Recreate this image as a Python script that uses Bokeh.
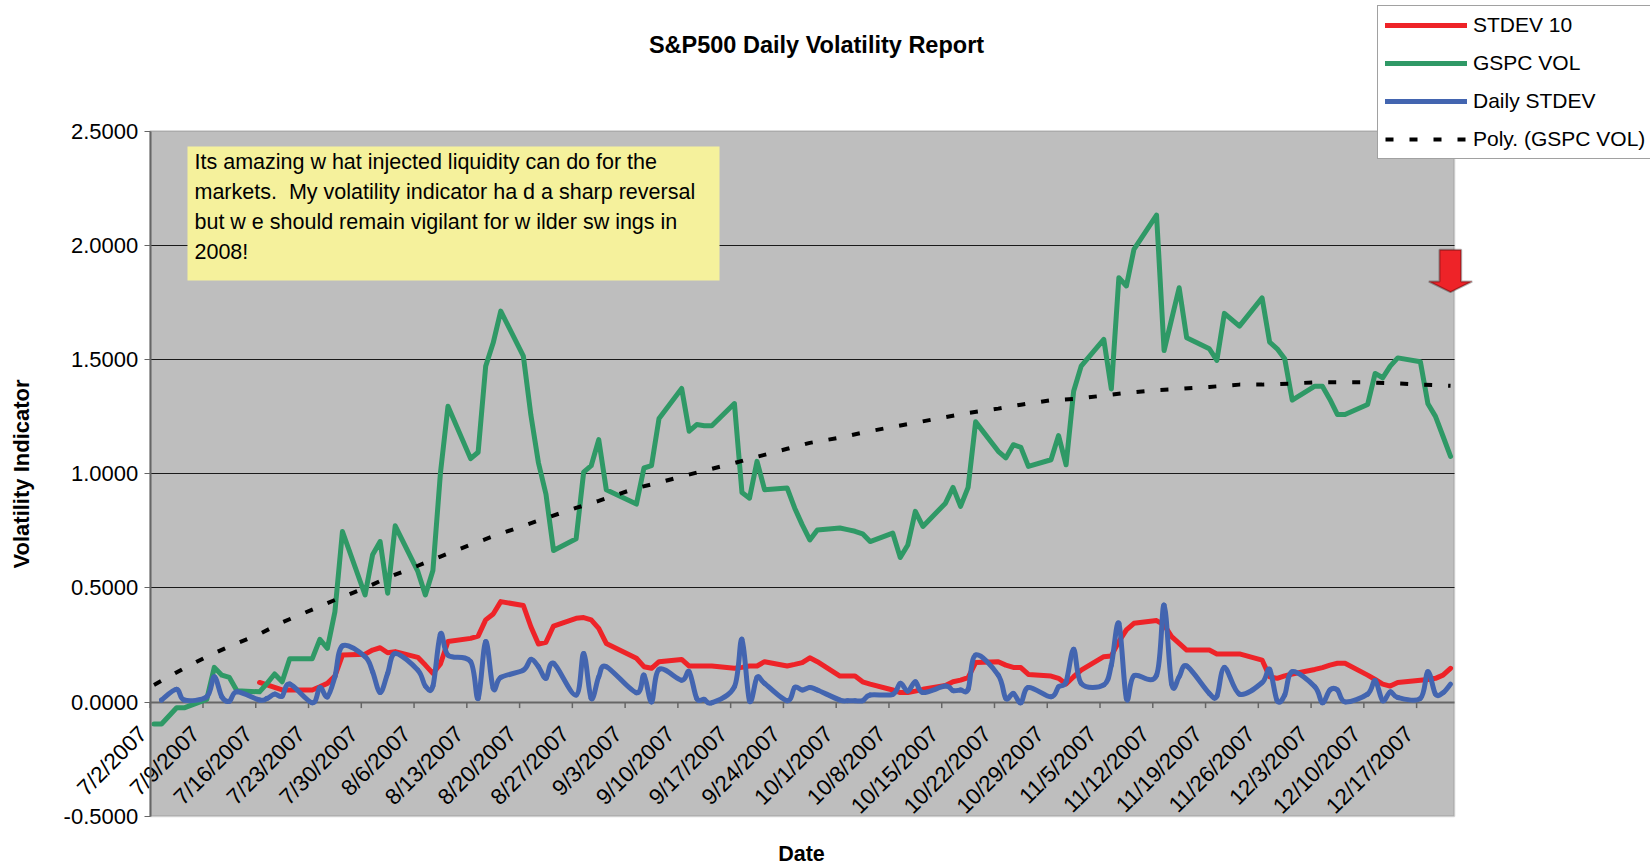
import math
import pandas as pd
from bokeh.embed import file_html
from bokeh.resources import INLINE
from bokeh.plotting import figure
from bokeh.models import (Range1d, FixedTicker, NumeralTickFormatter, Legend, LegendItem,
                          BoxAnnotation, Label, PolyAnnotation)

FONT = "Liberation Sans"
START = pd.Timestamp("2007-07-02")
HOLIDAYS = ["2007-07-04", "2007-09-03", "2007-11-22"]
DATES = [d for d in pd.bdate_range("2007-07-02", "2007-12-21") if d.strftime("%Y-%m-%d") not in HOLIDAYS]

GSPC_VOL = [
    -.096, -.096, -.025, -.025,
    .012, .152, .118, .108, .05,
    .045, .082, .123, .089, .19,
    .19, .275, .235, .396, .747,
    .469, .645, .703, .477, .772,
    .572, .469, .576, 1.003, 1.295,
    1.066, 1.094, 1.47, 1.573, 1.712,
    1.515, 1.256, 1.048, .91, .664,
    .715, 1.007, 1.035, 1.149, .93,
    .867, 1.025, 1.035, 1.242,
    1.373, 1.186, 1.215, 1.21, 1.21,
    1.307, .918, .893, 1.054, .93,
    .937, .849, .776, .71, .754,
    .762, .755, .748, .737, .703,
    .74, .633, .688, .835, .769,
    .871, .94, .857, .94, 1.227,
    1.098, 1.069, 1.127, 1.115, 1.032,
    1.061, 1.167, 1.039, 1.361, 1.471,
    1.588, 1.371, 1.858, 1.822, 1.982,
    2.132, 1.539, 1.677, 1.814, 1.595,
    1.547, 1.496, 1.702, 1.646,
    1.77, 1.576, 1.547, 1.503, 1.322,
    1.383, 1.383, 1.325, 1.259, 1.259,
    1.303, 1.439, 1.42, 1.471, 1.507,
    1.49, 1.306, 1.251, 1.164, 1.076,
]
STDEV_10 = [
    None, None, None, None,
    None, None, None, None, None,
    .086, .075, .064, .053, .053,
    .053, .067, .082, .114, .206,
    .21, .228, .238, .216, .221,
    .196, .162, .126, .167, .265,
    .279, .289, .36, .386, .44,
    .423, .33, .254, .262, .333,
    .367, .37, .36, .323, .257,
    .192, .155, .148, .177,
    .187, .158, .158, .158, .158,
    .148, .152, .158, .158, .177,
    .158, .165, .173, .194, .177,
    .114, .114, .114, .089, .079,
    .053, .042, .042, .048, .056,
    .073, .089, .096, .107, .173,
    .177, .162, .152, .151, .121,
    .114, .104, .079, .111, .14,
    .199, .202, .265, .316, .345,
    .357, .338, .287, .257, .228,
    .228, .211, .211, .211,
    .184, .111, .104, .115, .123,
    .143, .151, .162, .17, .17,
    .118, .099, .079, .07, .086,
    .096, .099, .104, .118, .148,
]
DAILY_STDEV = [
    None, .009, .056, .009,
    .023, .111, .023, .004, .045,
    .009, .016, .035, .026, .079,
    -.003, .064, .023, .111, .246,
    .199, .133, .042, .126, .213,
    .14, .07, .07, .298, .206,
    .177, .016, .265, .06, .108,
    .14, .187, .155, .104, .17,
    .031, .213, .016, .111, .155,
    .041, .118, .001, .143,
    .096, .133, .016, .012, -.003,
    .067, .275, .006, .108, .082,
    .006, .064, .053, .064, .053,
    .009, .006, .006, .006, .031,
    .034, .082, .048, .089, .042,
    .07, .05, .053, .056, .206,
    .118, .016, .038, -.003, .064,
    .023, .067, .089, .231, .082,
    .075, .162, .345, .016, .115,
    .118, .425, .079, .111, .158,
    .038, .026, .152, .035,
    .085, .143, .006, .031, .133,
    .067, -.003, .053, .053, .001,
    .035, .094, .006, .045, .02,
    .016, .133, .035, .041, .079,
]
POLY_DATES = ["7/2", "7/6", "7/9", "7/12", "7/16", "7/19", "7/23", "7/26", "7/30", "8/2", "8/6", "8/9", "8/13",
              "8/16", "8/20", "8/23", "8/27", "8/30", "9/4", "9/7", "9/10", "9/13", "9/17", "9/20", "9/24", "9/27",
              "10/1", "10/4", "10/8", "10/11", "10/15", "10/18", "10/22", "10/25", "10/29", "11/1", "11/5", "11/8",
              "11/12", "11/15", "11/19", "11/23", "11/26", "11/30", "12/3", "12/7", "12/10", "12/14", "12/17", "12/21"]
POLY_VOL = [.075, .148, .199, .244, .298, .349, .405, .447, .5, .545, .597, .637, .689,
            .726, .772, .806, .85, .881, .937, .961, .988, 1.013, 1.047, 1.074, 1.109, 1.135,
            1.158, 1.18, 1.205, 1.223, 1.248, 1.266, 1.285, 1.302, 1.322, 1.327, 1.342, 1.354,
            1.366, 1.371, 1.38, 1.39, 1.39, 1.395, 1.4, 1.4, 1.4, 1.395, 1.39, 1.385]
TICK_LABELS = ["7/2/2007", "7/9/2007", "7/16/2007", "7/23/2007", "7/30/2007", "8/6/2007", "8/13/2007", "8/20/2007",
               "8/27/2007", "9/3/2007", "9/10/2007", "9/17/2007", "9/24/2007", "10/1/2007", "10/8/2007", "10/15/2007",
               "10/22/2007", "10/29/2007", "11/5/2007", "11/12/2007", "11/19/2007", "11/26/2007", "12/3/2007",
               "12/10/2007", "12/17/2007"]
Y_TICKS = [-0.5, 0, 0.5, 1, 1.5, 2, 2.5]
GRID_TICKS = [0.5, 1, 1.5, 2]
NOTE_LINES = ["Its amazing w hat injected liquidity can do for the",
              "markets.\u00a0 My volatility indicator ha d a sharp reversal",
              "but w e should remain vigilant for w ilder sw ings in",
              "2008!"]

days = [(d - START).days for d in DATES]
poly_days = [(pd.Timestamp("2007/" + s) - START).days for s in POLY_DATES]
tick_days = [(pd.Timestamp(s) - START).days - 0.5 for s in TICK_LABELS]
X_LO, X_HI = -0.5, 172.5
Y_LO, Y_HI = -0.5, 2.5

# The frame fills the canvas so that legend and arrow may lie beyond the plot box
PX = lambda v: (v - 153.5) / 7.538
PY = lambda v: (701.6 - v) / 228.4
WIDTH, HEIGHT = 1650, 864
LABEL_SHIFT = 0.95  # tick labels sit a little left of their tick marks
TICK_LEN = 6 / 228.4

p = figure(width=WIDTH, height=HEIGHT, output_backend="svg", toolbar_location=None,
           x_range=Range1d(PX(0), PX(WIDTH)), y_range=Range1d(PY(HEIGHT), PY(0)),
           min_border=0, outline_line_color=None, background_fill_color="white")
p.add_layout(BoxAnnotation(left=X_LO, right=X_HI, bottom=Y_LO, top=Y_HI, level="image",
                           fill_color="#BEBEBE", fill_alpha=1, line_color="#808080", line_width=2))
p.xgrid.visible = False
p.ygrid.ticker = FixedTicker(ticks=GRID_TICKS)
p.ygrid.cross_bounds = (X_LO, X_HI)
p.ygrid.grid_line_color = "#1a1a1a"
p.ygrid.grid_line_width = 1.2

label_days = [t - LABEL_SHIFT for t in tick_days]
xa = p.xaxis[0]
xa.fixed_location = 0
xa.bounds = (X_LO, X_HI)
xa.level = "underlay"
xa.ticker = FixedTicker(ticks=label_days)
xa.major_label_overrides = {t: l for t, l in zip(label_days, TICK_LABELS)}
xa.major_label_orientation = math.pi / 4
xa.major_label_text_font = FONT
xa.major_label_text_font_size = "22.5px"
xa.major_label_text_color = "black"
xa.major_label_standoff = 22
xa.axis_line_color = "#666666"
xa.axis_line_width = 2
xa.major_tick_line_color = None
xa.minor_tick_line_color = None
p.segment(tick_days, [0] * len(tick_days), tick_days, [-TICK_LEN] * len(tick_days), line_color="#666666",
          line_width=1.5, level="underlay")

ya = p.yaxis[0]
ya.fixed_location = X_LO
ya.bounds = (Y_LO, Y_HI)
ya.ticker = FixedTicker(ticks=Y_TICKS)
ya.formatter = NumeralTickFormatter(format="0.0000")
ya.major_label_text_font = FONT
ya.major_label_text_font_size = "22px"
ya.major_label_text_color = "black"
ya.major_label_standoff = 6
ya.axis_line_color = "#666666"
ya.axis_line_width = 2
ya.major_tick_line_color = "#666666"
ya.major_tick_in = 0
ya.major_tick_out = 6
ya.minor_tick_line_color = None
ya.axis_label = "Volatility Indicator"
ya.axis_label_text_font = FONT
ya.axis_label_text_font_size = "22px"
ya.axis_label_text_font_style = "bold"
ya.axis_label_text_color = "black"
ya.axis_label_standoff = 27

valid = lambda vals: [(d, v) for d, v in zip(days, vals) if v is not None]
red_pts, blue_pts = valid(STDEV_10), valid(DAILY_STDEV)
style = dict(line_width=5, line_join="round", line_cap="round")
r_red = p.line([a for a, _ in red_pts], [b for _, b in red_pts], line_color="#EE2328", **style)
r_green = p.line(days, GSPC_VOL, line_color="#2F9966", **style)

# The daily series is a smoothed line in the original: Bezier segments through the read values
bx, by = [a for a, _ in blue_pts], [b for _, b in blue_pts]
n = len(bx)
prev = lambda s, i: s[max(i - 1, 0)]
next_ = lambda s, i: s[min(i + 1, n - 1)]
p.bezier(x0=bx[:-1], y0=by[:-1], x1=bx[1:], y1=by[1:],
         cx0=[bx[i] + (bx[i + 1] - prev(bx, i)) / 6 for i in range(n - 1)],
         cy0=[by[i] + (by[i + 1] - prev(by, i)) / 6 for i in range(n - 1)],
         cx1=[bx[i + 1] - (next_(bx, i + 1) - bx[i]) / 6 for i in range(n - 1)],
         cy1=[by[i + 1] - (next_(by, i + 1) - by[i]) / 6 for i in range(n - 1)],
         line_color="#4365B0", line_width=5, line_cap="round")
r_blue = p.line(bx[:1] * 2, by[:1] * 2, line_color="#4365B0", **style)
r_poly = p.line(poly_days, POLY_VOL, line_color="black", line_width=4, line_dash="8 16")

p.add_layout(Label(x=PX(816), y=PY(44), text="S&P500 Daily Volatility Report", text_font=FONT,
                   text_font_size="23.5px", text_font_style="bold", text_color="black",
                   text_align="center", text_baseline="middle"))
p.add_layout(Label(x=PX(801), y=PY(853), text="Date", text_font=FONT, text_font_size="21.5px",
                   text_font_style="bold", text_color="black", text_align="center", text_baseline="middle"))

p.add_layout(BoxAnnotation(left=PX(187), right=PX(719), top=PY(146), bottom=PY(280),
                           fill_color="#F5F19C", fill_alpha=1, line_color=None))
for i, line in enumerate(NOTE_LINES):
    p.add_layout(Label(x=PX(194), y=PY(161.5 + 30 * i), text=line, text_font=FONT, text_font_size="21.5px",
                       text_color="black", text_baseline="middle"))

p.add_layout(PolyAnnotation(
    xs=[PX(v) for v in (1439, 1460.7, 1460.7, 1471.7, 1450, 1428.3, 1439)],
    ys=[PY(v) for v in (249.3, 249.3, 281, 281, 291.7, 281, 281)],
    fill_color="#EE2328", fill_alpha=1, line_color="black", line_width=2))

legend = Legend(items=[LegendItem(label="STDEV 10", renderers=[r_red]),
                       LegendItem(label="GSPC VOL", renderers=[r_green]),
                       LegendItem(label="Daily STDEV", renderers=[r_blue]),
                       LegendItem(label="Poly. (GSPC VOL)", renderers=[r_poly])],
                location=(1377, HEIGHT - 159), padding=7, margin=0, spacing=14, glyph_width=82, glyph_height=22,
                label_height=22, label_standoff=6, label_text_font=FONT, label_text_font_size="21px",
                label_text_color="black", border_line_color="#444444", border_line_width=1.5,
                background_fill_color="white", background_fill_alpha=1)
p.add_layout(legend, "center")

open("out.html", "w").write(file_html(p, INLINE))
